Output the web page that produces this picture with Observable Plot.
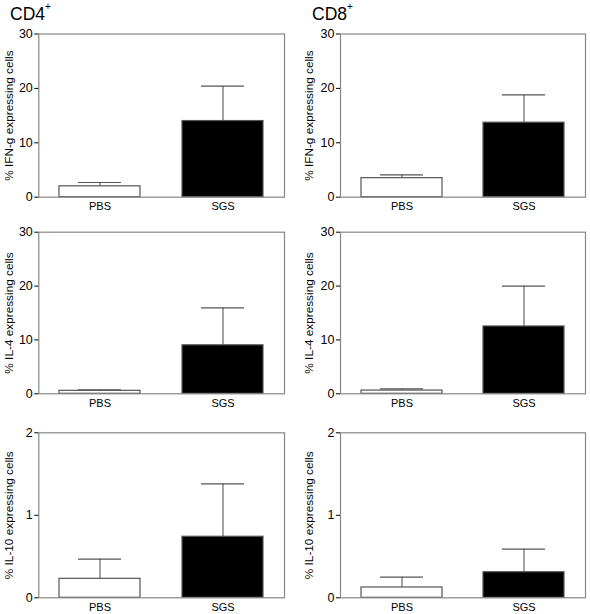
<!DOCTYPE html>
<html>
<head>
<meta charset="utf-8">
<script src="https://cdn.jsdelivr.net/npm/d3@7"></script>
<script src="https://cdn.jsdelivr.net/npm/@observablehq/plot@0.6"></script>
<style>
  body { margin: 0; background: #fff; font-family: "Liberation Sans", Arial, sans-serif; }
  #root { position: relative; width: 590px; height: 614px; overflow: hidden; }
  .hdr { position: absolute; font-size: 17.5px; color: #000; line-height: 1; }
  .hdr sup { font-size: 10px; position: relative; top: -3px; }
  .panel { position: absolute; }
</style>
</head>
<body>
<div id="root">
  <div class="hdr" style="left:10px; top:5px;">CD4<sup>+</sup></div>
  <div class="hdr" style="left:312px; top:5px;">CD8<sup>+</sup></div>
</div>
<script>
const groups = ["PBS", "SGS"];
const fills = ["#ffffff", "#000000"];

const cd4Ifn = [2.0, 14.0];
const cd4IfnSem = [0.7, 6.4];
const cd8Ifn = [3.5, 13.7];
const cd8IfnSem = [0.6, 5.1];

const cd4Il4 = [0.55, 9.0];
const cd4Il4Sem = [0.2, 6.95];
const cd8Il4 = [0.6, 12.5];
const cd8Il4Sem = [0.3, 7.5];

const cd4Il10 = [0.23, 0.74];
const cd4Il10Sem = [0.24, 0.64];
const cd8Il10 = [0.125, 0.31];
const cd8Il10Sem = [0.125, 0.28];

const ticks30 = [0, 10, 20, 30];
const ticks2 = [0, 1, 2];

const labelIfn = "% IFN-g expressing cells";
const labelIl4 = "% IL-4 expressing cells";
const labelIl10 = "% IL-10 expressing cells";

const rows = [
  {top: 12, height: 200, mt: 21.5, mb: 15.3},
  {top: 212, height: 202, mt: 19.7, mb: 20.7},
  {top: 414, height: 200, mt: 18.3, mb: 16.7}
];
const cols = [
  {left: 0, ml: 38.3, mr: 11, labelX: 8.5},
  {left: 295, ml: 45, mr: 5, labelX: 14}
];

const panels = [
  {r: 0, c: 0, v: cd4Ifn, e: cd4IfnSem, ticks: ticks30, label: labelIfn},
  {r: 0, c: 1, v: cd8Ifn, e: cd8IfnSem, ticks: ticks30, label: labelIfn},
  {r: 1, c: 0, v: cd4Il4, e: cd4Il4Sem, ticks: ticks30, label: labelIl4},
  {r: 1, c: 1, v: cd8Il4, e: cd8Il4Sem, ticks: ticks30, label: labelIl4},
  {r: 2, c: 0, v: cd4Il10, e: cd4Il10Sem, ticks: ticks2, label: labelIl10},
  {r: 2, c: 1, v: cd8Il10, e: cd8Il10Sem, ticks: ticks2, label: labelIl10}
];

const root = document.getElementById("root");

for (const p of panels) {
  const row = rows[p.r], col = cols[p.c];
  const data = groups.map((g, i) => ({group: g, value: p.v[i], top: p.v[i] + p.e[i], fill: fills[i]}));
  const yMax = p.ticks[p.ticks.length - 1];
  const chart = Plot.plot({
    width: 295,
    height: row.height,
    marginLeft: col.ml,
    marginRight: col.mr,
    marginTop: row.mt,
    marginBottom: row.mb,
    style: {background: "transparent", overflow: "visible", fontFamily: "Liberation Sans, Arial, sans-serif", color: "#000"},
    x: {domain: groups, paddingInner: 0.34, paddingOuter: 0.167},
    y: {domain: [0, yMax]},
    marks: [
      Plot.ruleX(data, {x: "group", y1: "value", y2: "top", stroke: "#666", strokeWidth: 1.2}),
      Plot.tickY(data, {x: "group", y: "top", stroke: "#555", strokeWidth: 1.2, insetLeft: 19, insetRight: 19}),
      Plot.barY(data, {x: "group", y: "value", fill: "fill", stroke: "#555", strokeWidth: 1.2}),
      Plot.frame({stroke: "#888", strokeWidth: 1.2}),
      Plot.axisX({tickSize: 0, tickPadding: 5, fontSize: 11, label: null}),
      Plot.axisY({ticks: p.ticks, tickFormat: d3.format("d"), tickSize: 4, tickPadding: 2, fontSize: 12.5, label: null}),
      Plot.text([p.label], {frameAnchor: "left", text: d => d, rotate: -90, textAnchor: "middle", lineAnchor: "middle", dx: col.labelX - col.ml, fontSize: 11.8, fill: "#000"})
    ]
  });
  chart.classList.add("panel");
  chart.style.position = "absolute";
  chart.style.left = col.left + "px";
  chart.style.top = row.top + "px";
  root.appendChild(chart);
}
</script>
</body>
</html>
